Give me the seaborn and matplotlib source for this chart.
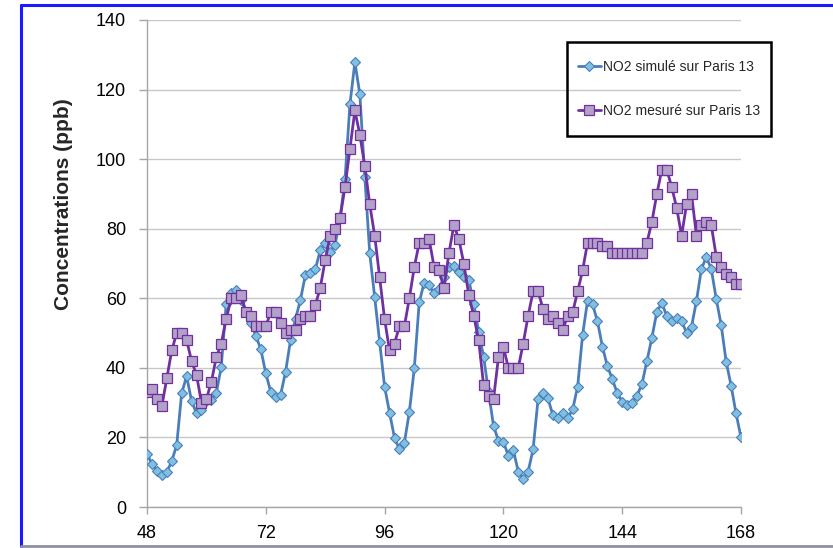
"""
NO2 concentrations on Paris 13: simulated vs measured, hourly (h 48 to 168).
"""

import matplotlib.pyplot as plt
import pandas as pd
import seaborn as sns
from matplotlib.lines import Line2D
from matplotlib.patches import Rectangle


# ---------------------------------------------------------------------------
# Data
# ---------------------------------------------------------------------------

HOURS = list(range(48, 169))

NO2_SIMULATED = [
    15.3, 12.4, 10.4, 9.3, 10.0, 13.2, 17.8, 32.7, 37.6, 30.5,
    26.9, 27.9, 30.4, 30.9, 32.8, 40.3, 58.3, 61.4, 62.4, 59.5,
    56.0, 52.8, 49.2, 45.3, 38.4, 33.1, 31.5, 32.3, 38.9, 48.0,
    54.0, 59.6, 66.7, 67.4, 68.3, 73.8, 75.8, 73.3, 75.4, 83.0,
    94.2, 115.8, 127.9, 118.6, 94.9, 72.9, 60.3, 47.4, 34.6, 27.1,
    19.9, 16.6, 18.5, 27.3, 39.9, 58.9, 64.5, 63.7, 61.4, 62.8,
    66.0, 68.9, 69.3, 67.6, 66.2, 65.4, 58.5, 50.4, 43.2, 33.0,
    23.4, 19.0, 18.8, 14.7, 16.4, 10.2, 8.1, 10.2, 16.6, 31.0,
    32.9, 31.2, 26.4, 25.5, 26.9, 25.5, 28.1, 34.6, 49.5, 59.3,
    58.3, 53.4, 46.1, 40.5, 36.8, 32.7, 30.3, 29.3, 30.0, 32.0,
    35.4, 42.0, 48.7, 56.1, 58.7, 54.9, 53.5, 54.2, 53.4, 50.1,
    51.8, 59.2, 68.4, 71.9, 68.4, 59.8, 52.3, 41.8, 34.9, 26.9,
    20.0,
]

NO2_MEASURED = [
    33, 34, 31, 29, 37, 45, 50, 50, 48, 42,
    38, 30, 31, 36, 43, 47, 54, 60, 60, 61,
    56, 55, 52, 52, 52, 56, 56, 53, 50, 51,
    51, 54, 55, 55, 58, 63, 71, 78, 80, 83,
    92, 103, 114, 107, 98, 87, 78, 66, 54, 45,
    47, 52, 52, 60, 69, 76, 76, 77, 69, 68,
    63, 73, 81, 77, 70, 61, 55, 48, 35, 32,
    31, 43, 46, 40, 40, 40, 47, 55, 62, 62,
    57, 54, 55, 53, 51, 55, 56, 62, 68, 76,
    76, 76, 75, 75, 73, 73, 73, 73, 73, 73,
    73, 76, 82, 90, 97, 97, 92, 86, 78, 87,
    90, 78, 81, 82, 81, 72, 69, 67, 66, 64,
    64,
]

LABEL_SIMULATED = "NO2 simulé sur Paris 13"
LABEL_MEASURED = "NO2 mesuré sur Paris 13"

X_TICKS = [48, 72, 96, 120, 144, 168]
Y_TICKS = [0, 20, 40, 60, 80, 100, 120, 140]


# ---------------------------------------------------------------------------
# Plot settings
# ---------------------------------------------------------------------------

W, H = 833, 548

BLUE_LINE = "#4a7ebb"
BLUE_FILL = "#7fbfdf"
PURPLE_LINE = "#7030a0"
PURPLE_FILL = "#b3a2c7"
GRID_COLOR = "#c8c8c8"
AXIS_COLOR = "#a6a6a6"

sns.set_theme(style="white")
plt.rcParams["font.family"] = ["Liberation Sans", "DejaVu Sans"]


def fx(px: float) -> float:
    """Pixel column -> figure fraction."""
    return px / W


def fy(px: float) -> float:
    """Pixel row (from top) -> figure fraction."""
    return 1 - px / H


def build_frame() -> pd.DataFrame:
    return pd.DataFrame(
        {
            "hour": HOURS,
            "simulated": NO2_SIMULATED,
            "measured": NO2_MEASURED,
        }
    )


def plot_no2(df: pd.DataFrame) -> None:
    fig = plt.figure(figsize=(W / 100, H / 100), dpi=100)
    ax = fig.add_axes([fx(147), fy(507), fx(594), 487 / H])

    sns.lineplot(
        data=df, x="hour", y="simulated", ax=ax,
        color=BLUE_LINE, linewidth=2, marker="D", markersize=5.5,
        markerfacecolor=BLUE_FILL, markeredgecolor=BLUE_LINE,
        markeredgewidth=0.8, zorder=3,
    )
    sns.lineplot(
        data=df, x="hour", y="measured", ax=ax,
        color=PURPLE_LINE, linewidth=2, marker="s", markersize=7.5,
        markerfacecolor=PURPLE_FILL, markeredgecolor=PURPLE_LINE,
        markeredgewidth=0.9, zorder=4,
    )

    ax.set_xlim(48, 168)
    ax.set_ylim(0, 140)
    ax.set_xticks(X_TICKS)
    ax.set_yticks(Y_TICKS)
    ax.set_xlabel("")
    ax.set_ylabel("")

    ax.grid(axis="y", color=GRID_COLOR, linewidth=1)
    ax.set_axisbelow(True)
    for side in ("top", "right"):
        ax.spines[side].set_visible(False)
    for side in ("left", "bottom"):
        ax.spines[side].set_color(AXIS_COLOR)
        ax.spines[side].set_linewidth(1)

    ax.tick_params(axis="y", direction="out", length=6, width=1,
                   color=AXIS_COLOR, pad=9, labelsize=13, labelcolor="black",
                   left=True)
    ax.tick_params(axis="x", direction="out", length=5, width=1,
                   color=AXIS_COLOR, pad=8, labelsize=13, labelcolor="black",
                   bottom=True)

    # y-axis title, placed like the original (above the axis centre)
    fig.text(fx(64), fy(204), "Concentrations (ppb)", rotation=90,
             ha="center", va="center", fontsize=15, fontweight="bold")

    # legend: entries without frame + separate box
    handles = [
        Line2D([], [], color=BLUE_LINE, linewidth=2, marker="D",
               markersize=5, markerfacecolor=BLUE_FILL,
               markeredgecolor=BLUE_LINE, markeredgewidth=0.8),
        Line2D([], [], color=PURPLE_LINE, linewidth=2, marker="s",
               markersize=7, markerfacecolor=PURPLE_FILL,
               markeredgecolor=PURPLE_LINE, markeredgewidth=0.9),
    ]
    fig.legend(
        handles, [LABEL_SIMULATED, LABEL_MEASURED],
        loc="center left", bbox_to_anchor=(fx(578), fy(89)),
        fontsize=10, frameon=False,
        borderpad=0, labelspacing=2.15, handlelength=1.65,
        handletextpad=0.12, borderaxespad=0,
    )
    fig.add_artist(Rectangle((fx(567), fy(136)), fx(771) - fx(567),
                             fy(42) - fy(136), transform=fig.transFigure,
                             facecolor="none", edgecolor="black",
                             linewidth=1.8, zorder=5))

    # outer chart frame (partly cropped in the original)
    fig.add_artist(Line2D([fx(21), fx(21)], [fy(5), fy(546)],
                          color="#1a1aff", linewidth=2.2))
    fig.add_artist(Line2D([fx(21), 1.0], [fy(5), fy(5)],
                          color="#1a1aff", linewidth=2.2))
    fig.add_artist(Line2D([fx(21), 1.0], [fy(546), fy(546)],
                          color="#9090a0", linewidth=2))

    fig.savefig("out.png", dpi=100)
    plt.close(fig)


def main() -> None:
    plot_no2(build_frame())


if __name__ == "__main__":
    main()
